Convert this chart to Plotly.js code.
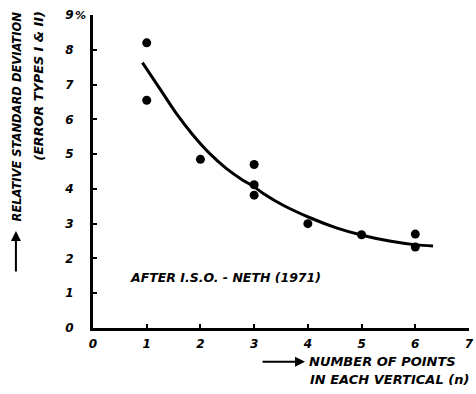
<!DOCTYPE html>
<html>
<head>
<meta charset="utf-8">
<script src="https://cdn.plot.ly/plotly-3.0.1.min.js"></script>
<style>html,body{margin:0;padding:0;background:#fff;}#chart{width:476px;height:394px;}</style>
</head>
<body>
<div id="chart"></div>
<script>
// Measured points (number of points n, relative std deviation %)
const pointsN = [1, 1, 2, 3, 3, 3, 4, 5, 6, 6];
const pointsRSD = [8.2, 6.55, 4.85, 4.7, 4.12, 3.82, 3.0, 2.68, 2.7, 2.33];
// Hand-drawn trend curve
const curveN = [0.92, 1.24, 1.55, 1.86, 2.17, 2.48, 2.79, 2.98, 3.17, 3.54, 4.04, 4.53, 5.03, 5.52, 6.02, 6.33];
const curveRSD = [7.63, 6.89, 6.17, 5.55, 5.02, 4.59, 4.25, 4.08, 3.87, 3.53, 3.17, 2.88, 2.66, 2.50, 2.39, 2.36];
const xTicks = [0, 1, 2, 3, 4, 5, 6, 7];
const yTicks = [0, 1, 2, 3, 4, 5, 6, 7, 8, 9];
const yTickText = ['0', '1', '2', '3', '4', '5', '6', '7', '8', '9'];

const F = 'DejaVu Sans, Liberation Sans, sans-serif';
const fnt = (s) => ({family: F, size: s, color: '#000', weight: 'bold', style: 'italic'});

const data = [
  {x: curveN, y: curveRSD, mode: 'lines', line: {color: '#000', width: 3, shape: 'spline', smoothing: 0.8}, hoverinfo: 'skip'},
  {x: pointsN, y: pointsRSD, mode: 'markers', marker: {color: '#000', size: 9}}
];

const layout = {
  width: 476, height: 394,
  margin: {l: 93, r: 7, t: 15, b: 66},
  paper_bgcolor: '#fff', plot_bgcolor: '#fff',
  showlegend: false,
  xaxis: {
    range: [0, 7], tickvals: xTicks, ticktext: xTicks.map(String),
    showgrid: false, zeroline: false, showline: true, linecolor: '#000', linewidth: 3,
    ticks: 'inside', ticklen: 4, tickwidth: 2, tickcolor: '#000',
    tickfont: fnt(12), ticklabelstandoff: 3
  },
  yaxis: {
    range: [0, 9], tickvals: yTicks, ticktext: yTickText,
    showgrid: false, zeroline: false, showline: true, linecolor: '#000', linewidth: 3,
    ticks: 'inside', ticklen: 4, tickwidth: 2, tickcolor: '#000',
    tickfont: fnt(12), ticklabelstandoff: 14
  },
  annotations: [
    {xref: 'paper', yref: 'paper', x: -0.052, y: 1.0, text: '%', showarrow: false, font: fnt(11), xanchor: 'left', yanchor: 'middle'},
    {xref: 'x', yref: 'y', x: 0.66, y: 1.44, text: 'AFTER I.S.O. - NETH (1971)', showarrow: false, font: fnt(12.5), xanchor: 'left', yanchor: 'middle'},
    // y axis title
    {xref: 'paper', yref: 'paper', x: -0.202, y: 1.018, text: 'RELATIVE STANDARD DEVIATION', textangle: -90, showarrow: false, font: fnt(11.5), xanchor: 'center', yanchor: 'top'},
    {xref: 'paper', yref: 'paper', x: -0.144, y: 1.018, text: '(ERROR TYPES I &amp; II)', textangle: -90, showarrow: false, font: fnt(12.8), xanchor: 'center', yanchor: 'top'},
    {xref: 'paper', yref: 'paper', x: -0.205, y: 0.31, ax: 0, ay: 42, text: '', showarrow: true, arrowhead: 2, arrowsize: 1, arrowwidth: 2, arrowcolor: '#000'},
    // x axis title
    {xref: 'paper', yref: 'paper', x: 0.569, y: -0.108, text: 'NUMBER OF POINTS', showarrow: false, font: fnt(13), xanchor: 'left', yanchor: 'middle'},
    {xref: 'paper', yref: 'paper', x: 0.572, y: -0.166, text: 'IN EACH VERTICAL (n)', showarrow: false, font: fnt(13), xanchor: 'left', yanchor: 'middle'},
    {xref: 'paper', yref: 'paper', x: 0.564, y: -0.108, ax: -44, ay: 0, text: '', showarrow: true, arrowhead: 2, arrowsize: 1, arrowwidth: 2, arrowcolor: '#000'}
  ]
};

Plotly.newPlot('chart', data, layout, {displayModeBar: false, staticPlot: true});
</script>
</body>
</html>
